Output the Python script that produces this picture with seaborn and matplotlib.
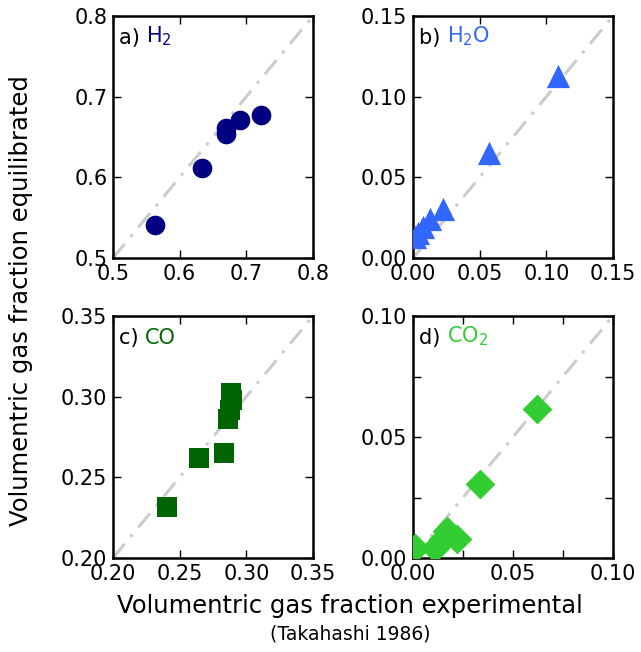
import numpy as np
import pandas as pd
import matplotlib
matplotlib.use("Agg")
import matplotlib.pyplot as plt
import seaborn as sns
from matplotlib.ticker import MultipleLocator

sns.set_theme(style="white")
plt.rcParams['font.family'] = ['DejaVu Sans']
plt.rcParams['text.color'] = 'black'
plt.rcParams['axes.labelcolor'] = 'black'

# ---- data ----
h2_exp = [0.563, 0.634, 0.670, 0.670, 0.690, 0.722]
h2_eq = [0.541, 0.612, 0.661, 0.654, 0.671, 0.677]

h2o_exp = [0.109, 0.057, 0.0228, 0.0128, 0.0078, 0.004, 0.0015]
h2o_eq = [0.113, 0.0653, 0.0304, 0.0242, 0.0194, 0.0153, 0.0128]

co_exp = [0.2403, 0.2647, 0.2835, 0.2865, 0.2878, 0.289, 0.2885]
co_eq = [0.2319, 0.2618, 0.2652, 0.2863, 0.2915, 0.2977, 0.302]

co2_exp = [0.0618, 0.0335, 0.0168, 0.0218, 0.011, 0.001, 0.015]
co2_eq = [0.0617, 0.0306, 0.0112, 0.0078, 0.0043, 0.0043, 0.008]

panels = [
    dict(x=h2_exp, y=h2_eq, lim=(0.5, 0.8), step=0.1, fmt="{:.1f}", marker="o",
         color="#000080", label="a)", gas=r"H$_2$", s=200, minor=None),
    dict(x=h2o_exp, y=h2o_eq, lim=(0.0, 0.15), step=0.05, fmt="{:.2f}", marker="^",
         color="#3366FF", label="b)", gas=r"H$_2$O", s=280, minor=None),
    dict(x=co_exp, y=co_eq, lim=(0.2, 0.35), step=0.05, fmt="{:.2f}", marker="s",
         color="#006400", label="c)", gas="CO", s=200, minor=None),
    dict(x=co2_exp, y=co2_eq, lim=(0.0, 0.1), step=0.05, fmt="{:.2f}", marker="D",
         color="#32CD32", label="d)", gas=r"CO$_2$", s=230, minor=0.025),
]

fig = plt.figure(figsize=(6.41, 6.52), dpi=100)
W, H = 641, 652
boxes = [(113, 16), (413, 16), (113, 316), (413, 316)]
aw, ah = 200, 242

for p, (l, t) in zip(panels, boxes):
    ax = fig.add_axes([l / W, 1 - (t + ah) / H, aw / W, ah / H])
    lo, hi = p["lim"]
    ax.plot([lo, hi], [lo, hi], linestyle="-.", color="#cccccc", lw=2.2,
            dashes=(6, 3, 1, 3), zorder=1)
    df = pd.DataFrame({"x": p["x"], "y": p["y"]})
    sns.scatterplot(data=df, x="x", y="y", ax=ax, marker=p["marker"],
                    color=p["color"], s=p["s"], edgecolor=p["color"],
                    linewidth=0, zorder=3)
    ax.set_xlim(lo, hi)
    ax.set_ylim(lo, hi)
    ticks = np.round(np.arange(lo, hi + 1e-9, p["step"]), 3)
    ax.set_xticks(ticks)
    ax.set_yticks(ticks)
    ax.set_xticklabels([p["fmt"].format(v) for v in ticks])
    ax.set_yticklabels([p["fmt"].format(v) for v in ticks])
    if p["minor"]:
        ax.xaxis.set_minor_locator(MultipleLocator(p["minor"]))
        ax.yaxis.set_minor_locator(MultipleLocator(p["minor"]))
    ax.tick_params(axis="both", which="both", direction="in", top=True, right=True,
                   bottom=True, left=True, length=6, width=1, labelsize=15,
                   color="black", labelcolor="black", pad=4)
    for sp in ax.spines.values():
        sp.set_visible(True)
        sp.set_color("black")
        sp.set_linewidth(1.8)
    ax.set_xlabel("")
    ax.set_ylabel("")
    t1 = ax.text(0.03, 0.884, p["label"] + " ", transform=ax.transAxes, fontsize=15,
                 va="baseline", ha="left", color="black")
    ax.annotate(p["gas"], xy=(1, 0), xycoords=t1, va="bottom", ha="left",
                fontsize=15, color=p["color"])

cx = 350 / W
fig.text(cx, 1 - 606 / H, "Volumentric gas fraction experimental",
         ha="center", va="center", fontsize=17.5)
fig.text(cx, 1 - 634 / H, "(Takahashi 1986)",
         ha="center", va="center", fontsize=13.5)
fig.text(21 / W, 1 - 301 / H, "Volumentric gas fraction equilibrated",
         ha="center", va="center", rotation=90, fontsize=17.5)

fig.savefig("out.png", dpi=100)
